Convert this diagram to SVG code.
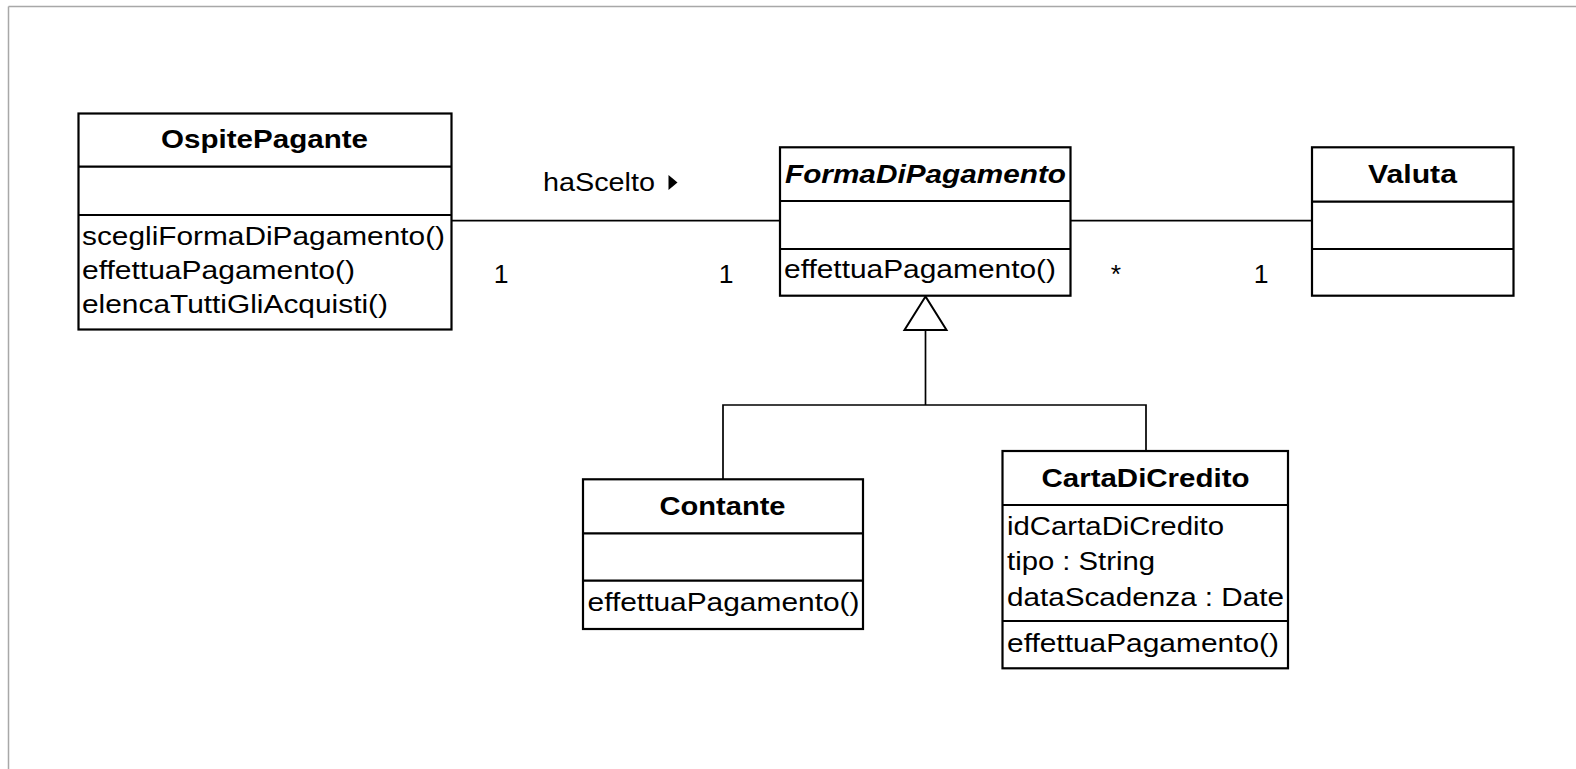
<svg xmlns="http://www.w3.org/2000/svg" width="1576" height="769" viewBox="0 0 1576 769">
<style>
.box{fill:#fff;stroke:#000;stroke-width:2.2}
.div{stroke:#000;stroke-width:2.2}
.ln{stroke:#000;stroke-width:1.7;fill:none}
.t{font-family:"Liberation Sans",Arial,sans-serif;font-size:26.5px;fill:#000}
.b{font-weight:bold}
.i{font-style:italic}
.m{text-anchor:middle}
</style>
<rect x="0" y="0" width="1576" height="769" fill="#fff"/>
<g id="frame">
<line x1="8.5" y1="6.5" x2="1576" y2="6.5" stroke="#a8a8a8" stroke-width="1.5"/>
<line x1="8.5" y1="6.5" x2="8.5" y2="769" stroke="#a8a8a8" stroke-width="1.5"/>
</g>
<g id="connectors">
<line class="ln" x1="451.5" y1="220.7" x2="780" y2="220.7"/>
<line class="ln" x1="1071" y1="220.7" x2="1312" y2="220.7"/>
<polyline class="ln" points="925.5,330 925.5,405"/>
<polyline class="ln" points="723,479 723,405 1146,405 1146,451"/>
<polygon points="925.5,296.5 904.5,330 946.5,330" fill="#fff" stroke="#000" stroke-width="2"/>
<text class="t" x="543" y="191" textLength="112" lengthAdjust="spacingAndGlyphs">haScelto</text>
<polygon points="668.5,175 677.5,182.5 668.5,190" fill="#000"/>
<text class="t m" x="501" y="283">1</text>
<text class="t m" x="726" y="283">1</text>
<text class="t m" x="1116" y="283">*</text>
<text class="t m" x="1261" y="283">1</text>
</g>
<g id="OspitePagante">
<rect class="box" x="78.5" y="113.5" width="373" height="216"/>
<line class="div" x1="78.5" y1="166.7" x2="451.5" y2="166.7"/>
<line class="div" x1="78.5" y1="215" x2="451.5" y2="215"/>
<text class="t b" x="161" y="148" textLength="207" lengthAdjust="spacingAndGlyphs">OspitePagante</text>
<text class="t" x="82" y="245" textLength="363" lengthAdjust="spacingAndGlyphs">scegliFormaDiPagamento()</text>
<text class="t" x="82" y="279" textLength="273" lengthAdjust="spacingAndGlyphs">effettuaPagamento()</text>
<text class="t" x="82" y="313" textLength="306" lengthAdjust="spacingAndGlyphs">elencaTuttiGliAcquisti()</text>
</g>
<g id="FormaDiPagamento">
<rect class="box" x="780" y="147.3" width="290.5" height="148.4"/>
<line class="div" x1="780" y1="201" x2="1070.5" y2="201"/>
<line class="div" x1="780" y1="249" x2="1070.5" y2="249"/>
<text class="t b i" x="785" y="183" textLength="281" lengthAdjust="spacingAndGlyphs">FormaDiPagamento</text>
<text class="t" x="784" y="278" textLength="272" lengthAdjust="spacingAndGlyphs">effettuaPagamento()</text>
</g>
<g id="Valuta">
<rect class="box" x="1312" y="147.3" width="201.5" height="148.4"/>
<line class="div" x1="1312" y1="201.7" x2="1513.5" y2="201.7"/>
<line class="div" x1="1312" y1="249" x2="1513.5" y2="249"/>
<text class="t b" x="1368" y="183" textLength="89" lengthAdjust="spacingAndGlyphs">Valuta</text>
</g>
<g id="Contante">
<rect class="box" x="583" y="479.3" width="280" height="149.7"/>
<line class="div" x1="583" y1="533.3" x2="863" y2="533.3"/>
<line class="div" x1="583" y1="580.7" x2="863" y2="580.7"/>
<text class="t b" x="659.5" y="515" textLength="126" lengthAdjust="spacingAndGlyphs">Contante</text>
<text class="t" x="587.5" y="611" textLength="272" lengthAdjust="spacingAndGlyphs">effettuaPagamento()</text>
</g>
<g id="CartaDiCredito">
<rect class="box" x="1002.5" y="451" width="285.5" height="217.3"/>
<line class="div" x1="1002.5" y1="505" x2="1288" y2="505"/>
<line class="div" x1="1002.5" y1="621" x2="1288" y2="621"/>
<text class="t b" x="1041.5" y="487" textLength="208" lengthAdjust="spacingAndGlyphs">CartaDiCredito</text>
<text class="t" x="1007" y="535" textLength="217" lengthAdjust="spacingAndGlyphs">idCartaDiCredito</text>
<text class="t" x="1007" y="570" textLength="148" lengthAdjust="spacingAndGlyphs">tipo : String</text>
<text class="t" x="1007" y="606" textLength="277" lengthAdjust="spacingAndGlyphs">dataScadenza : Date</text>
<text class="t" x="1007" y="652" textLength="272" lengthAdjust="spacingAndGlyphs">effettuaPagamento()</text>
</g>
</svg>
